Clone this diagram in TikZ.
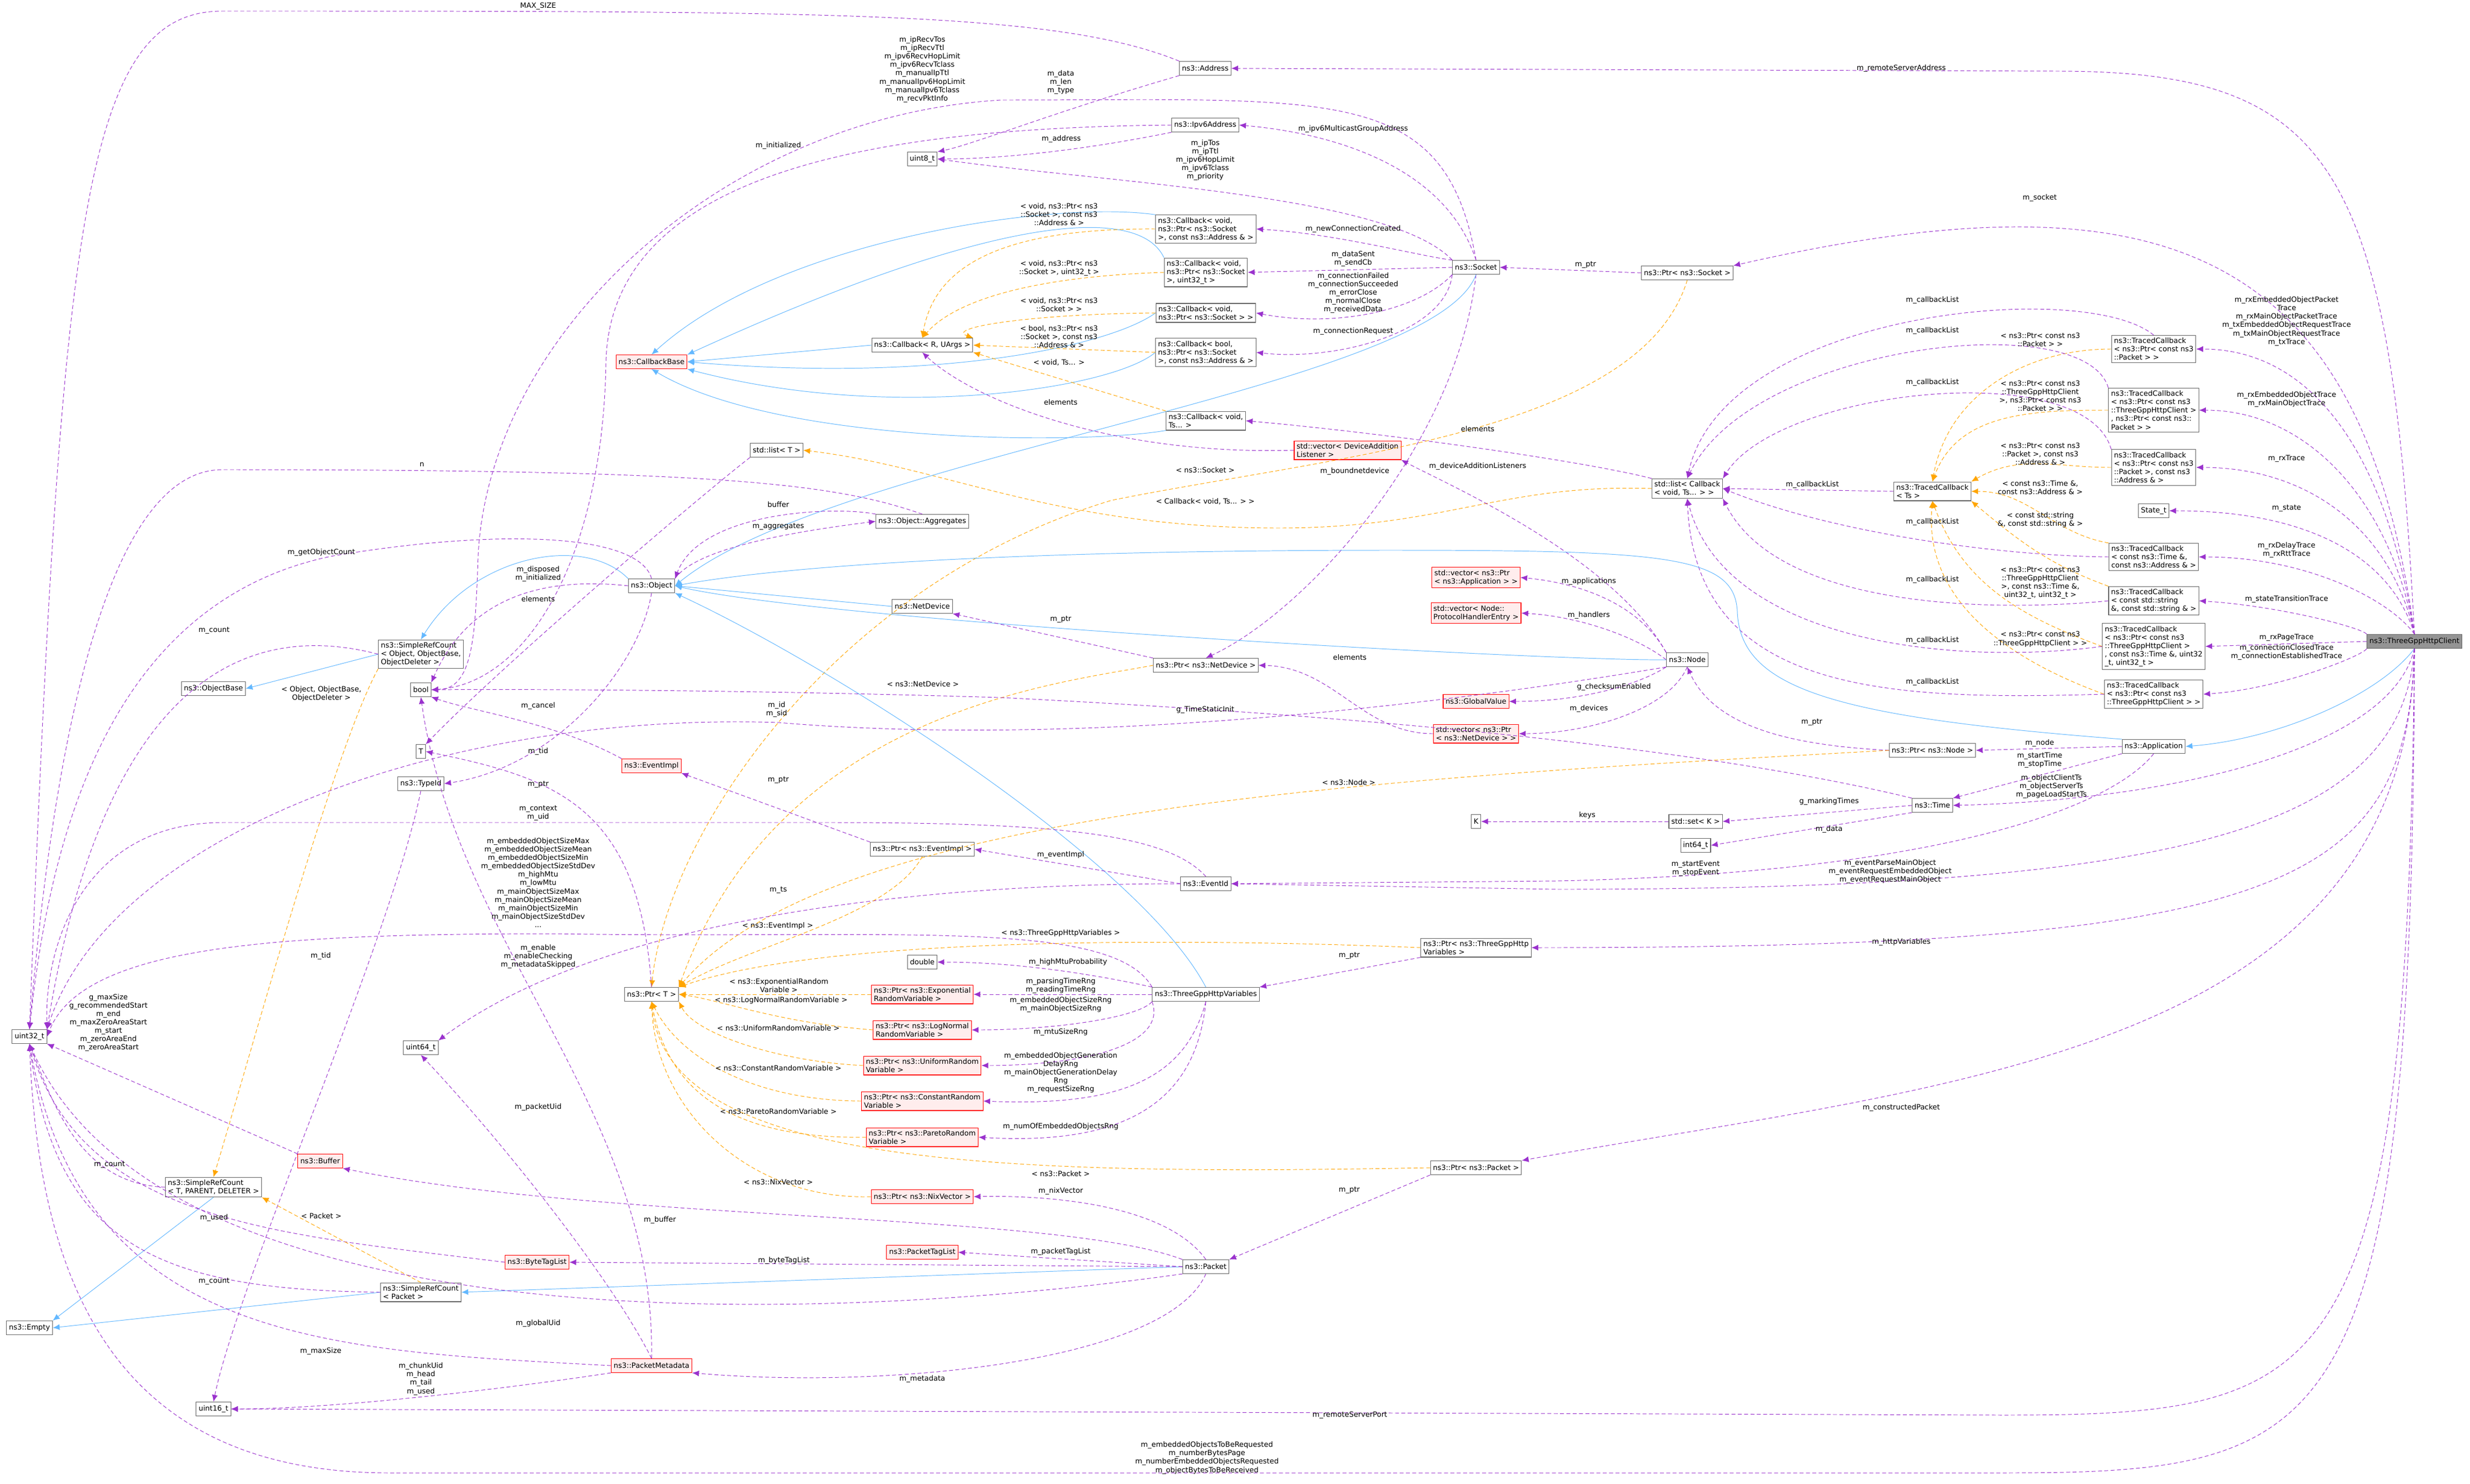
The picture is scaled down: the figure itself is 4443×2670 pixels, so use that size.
\documentclass[tikz,border=0pt]{standalone}
\usepackage{fontspec}
\setmainfont{DejaVu Sans}
\usetikzlibrary{arrows.meta}
\definecolor{memc}{HTML}{9A32CD}
\definecolor{inhc}{HTML}{63B8FF}
\definecolor{tplc}{HTML}{FFA500}
\begin{document}
\begin{tikzpicture}[x=0.02cm,y=-0.02cm, font=\fontsize{7.4}{8.6}\selectfont,
 box/.style={draw=black!60, fill=white, line width=0.6pt, inner sep=2.5pt, minimum height=0.5cm, align=left},
 rbox/.style={box, draw=red, fill=red!7},
 gbox/.style={box, fill=black!42},
 mem/.style={draw=memc, dash pattern=on 4pt off 2.5pt, line width=0.55pt, -{Latex[length=7pt,width=6pt]}},
 inh/.style={draw=inhc, line width=0.55pt, -{Latex[length=7pt,width=6pt]}},
 tpl/.style={draw=tplc, dash pattern=on 4pt off 2.5pt, line width=0.55pt, -{Latex[length=7pt,width=6pt]}},
 lbl/.style={align=center, inner sep=0pt}]
\fill[white] (0,0) rectangle (4443,2670);
\useasboundingbox (0,0) rectangle (4443,2670);
% nodes
\node[gbox] (client) at (4343,1154) {ns3::ThreeGppHttpClient};
\node[box] (app) at (3874,1343) {ns3::Application};
\node[box] (pnode) at (3476,1350) {ns3::Ptr< ns3::Node >};
\node[box] (time) at (3476,1449) {ns3::Time};
\node[box] (setk) at (3050,1478) {std::set< K >};
\node[box] (i64) at (3050,1521) {int64\_t};
\node[box] (k) at (2655,1478) {K};
\node[box] (tcts) at (3476,884) {ns3::TracedCallback\\< Ts >};
\node[box] (tc1) at (3874,628) {ns3::TracedCallback\\< ns3::Ptr< const ns3\\::Packet > >};
\node[box] (tc2) at (3874,738) {ns3::TracedCallback\\< ns3::Ptr< const ns3\\::ThreeGppHttpClient >\\, ns3::Ptr< const ns3::\\Packet > >};
\node[box] (tc3) at (3874,841) {ns3::TracedCallback\\< ns3::Ptr< const ns3\\::Packet >, const ns3\\::Address \& >};
\node[box] (state) at (3874,919) {State\_t};
\node[box] (tc4) at (3874,1002) {ns3::TracedCallback\\< const ns3::Time \&,\\const ns3::Address \& >};
\node[box] (tc5) at (3874,1081) {ns3::TracedCallback\\< const std::string\\\&, const std::string \& >};
\node[box] (tc6) at (3874,1163) {ns3::TracedCallback\\< ns3::Ptr< const ns3\\::ThreeGppHttpClient >\\, const ns3::Time \&, uint32\\\_t, uint32\_t >};
\node[box] (tc7) at (3874,1249) {ns3::TracedCallback\\< ns3::Ptr< const ns3\\::ThreeGppHttpClient > >};
\node[box] (lcb) at (3035,879) {std::list< Callback\\< void, Ts... > >};
\node[box] (psock) at (3035,491) {ns3::Ptr< ns3::Socket >};
\node[box] (sock) at (2655,481) {ns3::Socket};
\node[box] (addr) at (2168,123) {ns3::Address};
\node[box] (ip6) at (2168,225) {ns3::Ipv6Address};
\node[box] (u8) at (1659,286) {uint8\_t};
\node[box] (cbA) at (2169,412) {ns3::Callback< void,\\ns3::Ptr< ns3::Socket\\>, const ns3::Address \& >};
\node[box] (cbB) at (2169,490) {ns3::Callback< void,\\ns3::Ptr< ns3::Socket\\>, uint32\_t >};
\node[box] (cbC) at (2169,563) {ns3::Callback< void,\\ns3::Ptr< ns3::Socket > >};
\node[box] (cbD) at (2169,634) {ns3::Callback< bool,\\ns3::Ptr< ns3::Socket\\>, const ns3::Address \& >};
\node[box] (cbR) at (1659,621) {ns3::Callback< R, UArgs >};
\node[box] (cbV) at (2169,757) {ns3::Callback< void,\\Ts... >};
\node[rbox] (cbbase) at (1172,651) {ns3::CallbackBase};
\node[rbox] (vdal) at (2424,810) {std::vector< DeviceAddition\\Listener >};
\node[box] (agg) at (1659,938) {ns3::Object::Aggregates};
\node[box] (netdev) at (1659,1091) {ns3::NetDevice};
\node[box] (pnetdev) at (2169,1197) {ns3::Ptr< ns3::NetDevice >};
\node[rbox] (vapp) at (2655,1039) {std::vector< ns3::Ptr\\< ns3::Application > >};
\node[rbox] (vhand) at (2655,1103) {std::vector< Node::\\ProtocolHandlerEntry >};
\node[rbox] (gv) at (2655,1262) {ns3::GlobalValue};
\node[rbox] (vnd) at (2655,1320) {std::vector< ns3::Ptr\\< ns3::NetDevice > >};
\node[box] (node) at (3035,1187) {ns3::Node};
\node[box] (listT) at (1397,810) {std::list< T >};
\node[box] (obj) at (1172,1054) {ns3::Object};
\node[box] (src1) at (757,1177) {ns3::SimpleRefCount\\< Object, ObjectBase,\\ObjectDeleter >};
\node[box] (objbase) at (384,1239) {ns3::ObjectBase};
\node[box] (boolN) at (757,1241) {bool};
\node[box] (u32) at (53,1865) {uint32\_t};
\node[box] (Tn) at (757,1352) {T};
\node[box] (tid) at (757,1410) {ns3::TypeId};
\node[rbox] (evimpl) at (1172,1378) {ns3::EventImpl};
\node[box] (pT) at (1172,1789) {ns3::Ptr< T >};
\node[box] (u64) at (757,1885) {uint64\_t};
\node[rbox] (buffer) at (576,2089) {ns3::Buffer};
\node[box] (src2) at (384,2136) {ns3::SimpleRefCount\\< T, PARENT, DELETER >};
\node[rbox] (btl) at (966,2271) {ns3::ByteTagList};
\node[box] (src3) at (757,2325) {ns3::SimpleRefCount\\< Packet >};
\node[box] (empty) at (53,2389) {ns3::Empty};
\node[rbox] (pmeta) at (1172,2457) {ns3::PacketMetadata};
\node[box] (u16) at (384,2535) {uint16\_t};
\node[box] (pevimpl) at (1659,1528) {ns3::Ptr< ns3::EventImpl >};
\node[box] (evid) at (2169,1590) {ns3::EventId};
\node[box] (pvars) at (2655,1705) {ns3::Ptr< ns3::ThreeGppHttp\\Variables >};
\node[box] (dbl) at (1659,1731) {double};
\node[box] (vars) at (2169,1789) {ns3::ThreeGppHttpVariables};
\node[rbox] (pexp) at (1659,1789) {ns3::Ptr< ns3::Exponential\\RandomVariable >};
\node[rbox] (plog) at (1659,1853) {ns3::Ptr< ns3::LogNormal\\RandomVariable >};
\node[rbox] (puni) at (1659,1917) {ns3::Ptr< ns3::UniformRandom\\Variable >};
\node[rbox] (pcon) at (1659,1981) {ns3::Ptr< ns3::ConstantRandom\\Variable >};
\node[rbox] (ppar) at (1659,2046) {ns3::Ptr< ns3::ParetoRandom\\Variable >};
\node[box] (ppkt) at (2655,2101) {ns3::Ptr< ns3::Packet >};
\node[rbox] (pnix) at (1659,2153) {ns3::Ptr< ns3::NixVector >};
\node[rbox] (ptl) at (1659,2253) {ns3::PacketTagList};
\node[box] (pkt) at (2169,2279) {ns3::Packet};
% client edges
\draw[mem] (client.north) .. controls (4300,300) and (4200,128) .. (3700,128) -- (addr.east);
\draw[mem] (client.north) .. controls (4250,450) and (3900,300) .. (psock.north east);
\draw[mem] (client.north) .. controls (4290,800) and (4150,628) .. (tc1.east);
\draw[mem] (client.north) .. controls (4300,900) and (4150,738) .. (tc2.east);
\draw[mem] (client.north) .. controls (4300,950) and (4150,841) .. (tc3.east);
\draw[mem] (client.north) .. controls (4300,1000) and (4150,919) .. (state.east);
\draw[mem] (client.north) .. controls (4300,1080) and (4150,1002) .. (tc4.east);
\draw[mem] (client.north west) .. controls (4250,1130) and (4100,1090) .. (tc5.east);
\draw[mem] (client.west) -- (tc6.east);
\draw[mem] (client.south west) .. controls (4250,1180) and (4100,1240) .. (tc7.east);
\draw[inh] (client.south) .. controls (4280,1250) and (4100,1330) .. (app.east);
\draw[mem] (client.south) .. controls (4300,1350) and (3900,1440) .. (time.east);
\draw[mem] (client.south) .. controls (4320,1500) and (3900,1600) .. (2800,1600) -- (evid.east);
\draw[mem] (client.south) .. controls (4330,1600) and (4100,1705) .. (pvars.east);
\draw[mem] (client.south) .. controls (4330,1900) and (3500,1950) .. (ppkt.north east);
\draw[mem] (client.south) .. controls (4330,2500) and (4200,2546) .. (3600,2546) -- (u16.east);
\draw[mem] (client.south) .. controls (4340,2600) and (4200,2650) .. (3600,2650) -- (700,2650) .. controls (200,2650) and (70,2300) .. (u32.south);
% traced callbacks
\draw[tpl] (tc1.west) to[out=180,in=80] (tcts.north);
\draw[tpl] (tc2.west) to[out=180,in=70] (tcts.north);
\draw[tpl] (tc3.west) to[out=180,in=30] (tcts.north east);
\draw[tpl] (tc4.north west) to[out=170,in=0] (tcts.east);
\draw[tpl] (tc5.north west) to[out=160,in=-40] (tcts.south east);
\draw[tpl] (tc6.west) to[out=160,in=-70] (tcts.south);
\draw[tpl] (tc7.west) to[out=160,in=-95] (tcts.south);
\draw[mem] (tcts.west) -- (lcb.east);
\draw[mem] (tc1.north) .. controls (3750,500) and (3100,560) .. (lcb.north);
\draw[mem] (tc2.north west) .. controls (3750,550) and (3150,620) .. (lcb.north);
\draw[mem] (tc3.north west) .. controls (3750,640) and (3200,700) .. (lcb.north east);
\draw[mem] (tc4.west) .. controls (3600,1000) and (3300,960) .. (lcb.east);
\draw[mem] (tc5.west) .. controls (3600,1100) and (3200,1100) .. (lcb.south east);
\draw[mem] (tc6.west) .. controls (3500,1200) and (3100,1150) .. (lcb.south);
\draw[mem] (tc7.west) .. controls (3400,1260) and (3050,1250) .. (lcb.south);
\draw[mem] (lcb.north west) .. controls (2850,830) and (2500,780) .. (cbV.east);
\draw[tpl] (lcb.west) .. controls (2700,870) and (2600,950) .. (2300,950) .. controls (1900,950) and (1700,840) .. (listT.east);
\draw[mem] (psock.west) -- (sock.east);
\draw[tpl] (psock.south) .. controls (2950,780) and (2400,820) .. (2000,900) .. controls (1500,1050) and (1200,1500) .. (pT.north);
% socket
\draw[mem] (sock.north) .. controls (2600,300) and (2400,240) .. (ip6.east);
\draw[mem] (sock.north west) .. controls (2500,350) and (2000,330) .. (u8.east);
\draw[mem] (sock.north) .. controls (2600,150) and (2400,180) .. (1800,180) .. controls (1300,210) and (880,600) .. (860,1000) .. controls (855,1150) and (850,1240) .. (boolN.east);
\draw[mem] (ip6.west) .. controls (1600,230) and (1100,300) .. (1090,650) .. controls (1085,1000) and (950,1230) .. (boolN.east);
\draw[mem] (sock.north west) .. controls (2550,460) and (2400,420) .. (cbA.east);
\draw[mem] (sock.west) -- (cbB.east);
\draw[mem] (sock.south west) .. controls (2550,560) and (2400,590) .. (cbC.east);
\draw[mem] (sock.south west) .. controls (2600,600) and (2400,650) .. (cbD.east);
\draw[mem] (sock.south) .. controls (2620,800) and (2350,1100) .. (pnetdev.north);
\draw[inh] (sock.south) .. controls (2580,700) and (1500,820) .. (obj.east);
\draw[mem] (addr.south west) .. controls (1900,200) and (1750,260) .. (u8.north east);
\draw[mem] (addr.north west) .. controls (1900,20) and (1500,20) .. (400,20) .. controls (150,20) and (110,400) .. (u32.north);
\draw[mem] (ip6.south west) .. controls (1950,270) and (1800,286) .. (u8.east);
% callbacks
\draw[inh] (cbA.north west) .. controls (1900,360) and (1400,430) .. (cbbase.north);
\draw[inh] (cbB.north west) .. controls (2050,370) and (1800,380) .. (cbbase.north east);
\draw[inh] (cbC.west) .. controls (2000,620) and (1700,690) .. (cbbase.east);
\draw[inh] (cbD.west) .. controls (2000,700) and (1600,760) .. (cbbase.south east);
\draw[inh] (cbV.south west) .. controls (1950,800) and (1400,800) .. (cbbase.south);
\draw[inh] (cbR.west) -- (cbbase.east);
\draw[tpl] (cbA.west) .. controls (1800,410) and (1680,480) .. (cbR.north);
\draw[tpl] (cbB.west) .. controls (1800,500) and (1700,560) .. (cbR.north);
\draw[tpl] (cbC.west) .. controls (1850,565) and (1700,590) .. (cbR.north east);
\draw[tpl] (cbD.west) -- (cbR.east);
\draw[tpl] (cbV.north west) -- (cbR.south east);
\draw[mem] (vdal.west) .. controls (2000,820) and (1750,720) .. (cbR.south);
% node
\draw[mem] (node.north west) .. controls (2900,1000) and (2600,870) .. (vdal.south east);
\draw[mem] (node.north west) .. controls (2950,1090) and (2850,1050) .. (vapp.east);
\draw[mem] (node.west) .. controls (2950,1150) and (2850,1110) .. (vhand.east);
\draw[mem] (node.south west) .. controls (2950,1230) and (2850,1262) .. (gv.east);
\draw[mem] (node.south) .. controls (3000,1280) and (2850,1320) .. (vnd.east);
\draw[mem] (node.south west) .. controls (2700,1250) and (2000,1350) .. (1400,1300) .. controls (800,1280) and (200,1500) .. (u32.north east);
\draw[inh] (node.west) .. controls (2800,1190) and (1500,1120) .. (obj.east);
\draw[mem] (vnd.west) .. controls (2450,1320) and (2400,1200) .. (pnetdev.east);
\draw[mem] (pnetdev.north west) -- (netdev.south east);
\draw[tpl] (pnetdev.west) .. controls (1900,1230) and (1400,1280) .. (pT.north east);
\draw[inh] (netdev.west) -- (obj.east);
% application
\draw[mem] (app.west) -- (pnode.east);
\draw[mem] (app.south west) -- (time.north east);
\draw[mem] (app.south) .. controls (3800,1450) and (3500,1570) .. (2800,1585) -- (evid.east);
\draw[inh] (app.north west) .. controls (3300,1290) and (3130,1240) .. (3125,1100) .. controls (3120,1000) and (3000,990) .. (2500,990) .. controls (1800,990) and (1400,1020) .. (obj.east);
\draw[mem] (pnode.west) .. controls (3200,1340) and (3080,1300) .. (node.south);
\draw[tpl] (pnode.west) .. controls (2500,1400) and (1500,1450) .. (pT.north east);
\draw[mem] (time.west) -- (setk.east);
\draw[mem] (time.south west) -- (i64.east);
\draw[mem] (time.north west) .. controls (3000,1330) and (2300,1280) .. (1800,1255) .. controls (1300,1240) and (900,1240) .. (boolN.east);
\draw[mem] (setk.west) -- (k.east);
% object
\draw[mem] (listT.south west) .. controls (1250,900) and (900,1200) .. (Tn.north east);
\draw[mem] (obj.north) .. controls (1150,960) and (900,950) .. (600,1000) .. controls (200,1080) and (90,1500) .. (u32.north);
\draw[mem] (obj.west) .. controls (1000,1040) and (850,1060) .. (boolN.north east);
\draw[mem] (obj.north east) .. controls (1250,990) and (1400,960) .. (agg.west);
\draw[mem] (agg.north west) .. controls (1500,910) and (1260,920) .. (obj.north east);
\draw[mem] (agg.north) .. controls (1500,870) and (1300,845) .. (400,845) .. controls (200,845) and (100,1300) .. (u32.north);
\draw[mem] (obj.south) .. controls (1150,1200) and (1000,1380) .. (tid.east);
\draw[inh] (obj.north west) .. controls (1050,960) and (850,1000) .. (src1.north);
\draw[inh] (src1.west) -- (objbase.east);
\draw[mem] (src1.west) .. controls (500,1130) and (200,1150) .. (u32.north east);
\draw[tpl] (src1.south west) .. controls (600,1350) and (450,1900) .. (src2.north);
\draw[mem] (evimpl.north west) .. controls (1000,1300) and (850,1280) .. (boolN.south east);
\draw[mem] (pT.north) .. controls (1150,1450) and (1000,1400) .. (Tn.east);
\draw[mem] (tid.south) .. controls (700,1700) and (430,2300) .. (u16.north);
\draw[mem] (buffer.north west) -- (u32.south east);
\draw[mem] (src2.west) .. controls (150,2130) and (100,2000) .. (u32.south);
\draw[inh] (src2.south) -- (empty.north east);
\draw[mem] (btl.west) .. controls (500,2220) and (150,2200) .. (u32.south);
\draw[inh] (src3.west) -- (empty.east);
\draw[mem] (src3.west) .. controls (300,2320) and (100,2250) .. (u32.south);
\draw[tpl] (src3.north) -- (src2.south east);
\draw[mem] (pmeta.west) .. controls (600,2430) and (150,2420) .. (u32.south);
\draw[mem] (pmeta.south west) .. controls (900,2500) and (600,2535) .. (u16.east);
\draw[mem] (pmeta.north) .. controls (1100,2300) and (900,2050) .. (u64.south);
\draw[mem] (pmeta.north) .. controls (1180,2000) and (820,1700) .. (boolN.south);
% packet
\draw[inh] (pkt.west) -- (src3.east);
\draw[mem] (pkt.north west) .. controls (1900,2180) and (1100,2200) .. (buffer.south east);
\draw[mem] (pkt.west) -- (btl.east);
\draw[mem] (pkt.west) -- (ptl.east);
\draw[mem] (pkt.north) .. controls (2100,2170) and (1900,2150) .. (pnix.east);
\draw[mem] (pkt.south) .. controls (2100,2450) and (1600,2500) .. (pmeta.south east);
\draw[mem] (pkt.south west) .. controls (1500,2380) and (300,2430) .. (u32.south);
\draw[mem] (ppkt.south west) -- (pkt.north east);
\draw[tpl] (ppkt.west) .. controls (1800,2115) and (1200,2100) .. (pT.south);
\draw[tpl] (pnix.west) .. controls (1350,2160) and (1180,2000) .. (pT.south);
\draw[tpl] (pexp.west) -- (pT.east);
\draw[tpl] (plog.west) .. controls (1400,1840) and (1300,1800) .. (pT.east);
\draw[tpl] (puni.west) .. controls (1400,1910) and (1250,1860) .. (pT.south east);
\draw[tpl] (pcon.west) .. controls (1350,1980) and (1220,1900) .. (pT.south);
\draw[tpl] (ppar.west) .. controls (1300,2050) and (1200,1950) .. (pT.south);
% variables
\draw[mem] (vars.north west) .. controls (2000,1760) and (1850,1731) .. (dbl.east);
\draw[mem] (vars.west) -- (pexp.east);
\draw[mem] (vars.south west) .. controls (2050,1830) and (1900,1853) .. (plog.east);
\draw[mem] (vars.south west) .. controls (2100,1880) and (1950,1917) .. (puni.east);
\draw[mem] (vars.south) .. controls (2130,1950) and (2000,1990) .. (pcon.east);
\draw[mem] (vars.south) .. controls (2150,2000) and (2000,2060) .. (ppar.east);
\draw[mem] (vars.north west) .. controls (2000,1650) and (1600,1690) .. (1000,1680) .. controls (500,1680) and (150,1700) .. (u32.east);
\draw[inh] (vars.north) .. controls (2050,1550) and (1500,1200) .. (obj.south east);
\draw[mem] (pvars.south west) -- (vars.north east);
\draw[tpl] (pvars.west) .. controls (2200,1690) and (1500,1680) .. (pT.north east);
\draw[mem] (evid.west) -- (pevimpl.east);
\draw[mem] (evid.north) .. controls (2100,1500) and (1900,1480) .. (1500,1480) -- (400,1480) .. controls (150,1480) and (80,1700) .. (u32.north east);
\draw[mem] (evid.west) .. controls (1700,1590) and (1100,1640) .. (u64.north east);
\draw[mem] (pevimpl.north west) -- (evimpl.south east);
\draw[tpl] (pevimpl.south) .. controls (1600,1650) and (1350,1700) .. (pT.north east);
% labels
\node[lbl] at (968,11) {MAX\_SIZE};
\node[lbl] at (1400,262) {m\_initialized};
\node[lbl] at (759,836) {n};
\node[lbl] at (1400,908) {buffer};
\node[lbl] at (1400,947) {m\_aggregates};
\node[lbl] at (578,994) {m\_getObjectCount};
\node[lbl] at (968,1033) {m\_disposed\\m\_initialized};
\node[lbl] at (968,1078) {elements};
\node[lbl] at (385,1134) {m\_count};
\node[lbl] at (578,1248) {< Object, ObjectBase,\\ObjectDeleter >};
\node[lbl] at (968,1270) {m\_cancel};
\node[lbl] at (1397,1277) {m\_id\\m\_sid};
\node[lbl] at (1659,125) {m\_ipRecvTos\\m\_ipRecvTtl\\m\_ipv6RecvHopLimit\\m\_ipv6RecvTclass\\m\_manualIpTtl\\m\_manualIpv6HopLimit\\m\_manualIpv6Tclass\\m\_recvPktInfo};
\node[lbl] at (1908,148) {m\_data\\m\_len\\m\_type};
\node[lbl] at (1909,250) {m\_address};
\node[lbl] at (2434,232) {m\_ipv6MulticastGroupAddress};
\node[lbl] at (2168,288) {m\_ipTos\\m\_ipTtl\\m\_ipv6HopLimit\\m\_ipv6Tclass\\m\_priority};
\node[lbl] at (1905,386) {< void, ns3::Ptr< ns3\\::Socket >, const ns3\\::Address \& >};
\node[lbl] at (2434,412) {m\_newConnectionCreated};
\node[lbl] at (1905,483) {< void, ns3::Ptr< ns3\\::Socket >, uint32\_t >};
\node[lbl] at (2434,466) {m\_dataSent\\m\_sendCb};
\node[lbl] at (2434,527) {m\_connectionFailed\\m\_connectionSucceeded\\m\_errorClose\\m\_normalClose\\m\_receivedData};
\node[lbl] at (1905,548) {< void, ns3::Ptr< ns3\\::Socket > >};
\node[lbl] at (2434,596) {m\_connectionRequest};
\node[lbl] at (1905,606) {< bool, ns3::Ptr< ns3\\::Socket >, const ns3\\::Address \& >};
\node[lbl] at (1905,652) {< void, Ts... >};
\node[lbl] at (1908,724) {elements};
\node[lbl] at (2658,772) {elements};
\node[lbl] at (2168,846) {< ns3::Socket >};
\node[lbl] at (2437,848) {m\_boundnetdevice};
\node[lbl] at (2658,839) {m\_deviceAdditionListeners};
\node[lbl] at (2168,902) {< Callback< void, Ts... > >};
\node[lbl] at (2858,1046) {m\_applications};
\node[lbl] at (2858,1107) {m\_handlers};
\node[lbl] at (1908,1114) {m\_ptr};
\node[lbl] at (2428,1183) {elements};
\node[lbl] at (1660,1231) {< ns3::NetDevice >};
\node[lbl] at (2903,1236) {g\_checksumEnabled};
\node[lbl] at (2858,1275) {m\_devices};
\node[lbl] at (2168,1277) {g\_TimeStaticInit};
\node[lbl] at (2852,476) {m\_ptr};
\node[lbl] at (3669,356) {m\_socket};
\node[lbl] at (3476,540) {m\_callbackList};
\node[lbl] at (3476,595) {m\_callbackList};
\node[lbl] at (3476,688) {m\_callbackList};
\node[lbl] at (3476,939) {m\_callbackList};
\node[lbl] at (3476,1043) {m\_callbackList};
\node[lbl] at (3476,1152) {m\_callbackList};
\node[lbl] at (3476,1227) {m\_callbackList};
\node[lbl] at (3260,872) {m\_callbackList};
\node[lbl] at (3670,611) {< ns3::Ptr< const ns3\\::Packet > >};
\node[lbl] at (3670,712) {< ns3::Ptr< const ns3\\::ThreeGppHttpClient\\>, ns3::Ptr< const ns3\\::Packet > >};
\node[lbl] at (3670,817) {< ns3::Ptr< const ns3\\::Packet >, const ns3\\::Address \& >};
\node[lbl] at (3670,877) {< const ns3::Time \&,\\const ns3::Address \& >};
\node[lbl] at (3670,935) {< const std::string\\\&, const std::string \& >};
\node[lbl] at (3670,1049) {< ns3::Ptr< const ns3\\::ThreeGppHttpClient\\>, const ns3::Time \&,\\uint32\_t, uint32\_t >};
\node[lbl] at (3670,1150) {< ns3::Ptr< const ns3\\::ThreeGppHttpClient > >};
\node[lbl] at (4113,578) {m\_rxEmbeddedObjectPacket\\Trace\\m\_rxMainObjectPacketTrace\\m\_txEmbeddedObjectRequestTrace\\m\_txMainObjectRequestTrace\\m\_txTrace};
\node[lbl] at (4113,719) {m\_rxEmbeddedObjectTrace\\m\_rxMainObjectTrace};
\node[lbl] at (4113,825) {m\_rxTrace};
\node[lbl] at (4113,914) {m\_state};
\node[lbl] at (4113,990) {m\_rxDelayTrace\\m\_rxRttTrace};
\node[lbl] at (4113,1078) {m\_stateTransitionTrace};
\node[lbl] at (4113,1147) {m\_rxPageTrace};
\node[lbl] at (4113,1174) {m\_connectionClosedTrace\\m\_connectionEstablishedTrace};
\node[lbl] at (3420,123) {m\_remoteServerAddress};
\node[lbl] at (3259,1299) {m\_ptr};
\node[lbl] at (3669,1337) {m\_node};
\node[lbl] at (3669,1368) {m\_startTime\\m\_stopTime};
\node[lbl] at (3690,1415) {m\_objectClientTs\\m\_objectServerTs\\m\_pageLoadStartTs};
\node[lbl] at (3290,1442) {g\_markingTimes};
\node[lbl] at (3290,1492) {m\_data};
\node[lbl] at (3050,1563) {m\_startEvent\\m\_stopEvent};
\node[lbl] at (3400,1568) {m\_eventParseMainObject\\m\_eventRequestEmbeddedObject\\m\_eventRequestMainObject};
\node[lbl] at (3420,1695) {m\_httpVariables};
\node[lbl] at (3420,1993) {m\_constructedPacket};
\node[lbl] at (968,1352) {m\_tid};
\node[lbl] at (968,1411) {m\_ptr};
\node[lbl] at (1400,1403) {m\_ptr};
\node[lbl] at (968,1463) {m\_context\\m\_uid};
\node[lbl] at (968,1588) {m\_embeddedObjectSizeMax\\m\_embeddedObjectSizeMean\\m\_embeddedObjectSizeMin\\m\_embeddedObjectSizeStdDev\\m\_highMtu\\m\_lowMtu\\m\_mainObjectSizeMax\\m\_mainObjectSizeMean\\m\_mainObjectSizeMin\\m\_mainObjectSizeStdDev\\...};
\node[lbl] at (1400,1601) {m\_ts};
\node[lbl] at (1399,1666) {< ns3::EventImpl >};
\node[lbl] at (577,1720) {m\_tid};
\node[lbl] at (968,1721) {m\_enable\\m\_enableChecking\\m\_metadataSkipped};
\node[lbl] at (1401,1773) {< ns3::ExponentialRandom\\Variable >};
\node[lbl] at (1405,1800) {< ns3::LogNormalRandomVariable >};
\node[lbl] at (195,1840) {g\_maxSize\\g\_recommendedStart\\m\_end\\m\_maxZeroAreaStart\\m\_start\\m\_zeroAreaEnd\\m\_zeroAreaStart};
\node[lbl] at (1400,1850) {< ns3::UniformRandomVariable >};
\node[lbl] at (1400,1922) {< ns3::ConstantRandomVariable >};
\node[lbl] at (968,1992) {m\_packetUid};
\node[lbl] at (1400,2000) {< ns3::ParetoRandomVariable >};
\node[lbl] at (197,2095) {m\_count};
\node[lbl] at (1400,2127) {< ns3::NixVector >};
\node[lbl] at (385,2191) {m\_used};
\node[lbl] at (578,2188) {< Packet >};
\node[lbl] at (1187,2195) {m\_buffer};
\node[lbl] at (1410,2268) {m\_byteTagList};
\node[lbl] at (385,2305) {m\_count};
\node[lbl] at (968,2381) {m\_globalUid};
\node[lbl] at (577,2431) {m\_maxSize};
\node[lbl] at (757,2481) {m\_chunkUid\\m\_head\\m\_tail\\m\_used};
\node[lbl] at (2426,1408) {< ns3::Node >};
\node[lbl] at (2855,1467) {keys};
\node[lbl] at (1908,1538) {m\_eventImpl};
\node[lbl] at (1908,1679) {< ns3::ThreeGppHttpVariables >};
\node[lbl] at (1921,1731) {m\_highMtuProbability};
\node[lbl] at (2427,1719) {m\_ptr};
\node[lbl] at (1908,1774) {m\_parsingTimeRng\\m\_readingTimeRng};
\node[lbl] at (1908,1808) {m\_embeddedObjectSizeRng\\m\_mainObjectSizeRng};
\node[lbl] at (1908,1857) {m\_mtuSizeRng};
\node[lbl] at (1908,1930) {m\_embeddedObjectGeneration\\DelayRng\\m\_mainObjectGenerationDelay\\Rng\\m\_requestSizeRng};
\node[lbl] at (1908,2027) {m\_numOfEmbeddedObjectsRng};
\node[lbl] at (1908,2112) {< ns3::Packet >};
\node[lbl] at (1908,2143) {m\_nixVector};
\node[lbl] at (2427,2141) {m\_ptr};
\node[lbl] at (1908,2252) {m\_packetTagList};
\node[lbl] at (1659,2481) {m\_metadata};
\node[lbl] at (2428,2546) {m\_remoteServerPort};
\node[lbl] at (2171,2623) {m\_embeddedObjectsToBeRequested\\m\_numberBytesPage\\m\_numberEmbeddedObjectsRequested\\m\_objectBytesToBeReceived};
\end{tikzpicture}
\end{document}
